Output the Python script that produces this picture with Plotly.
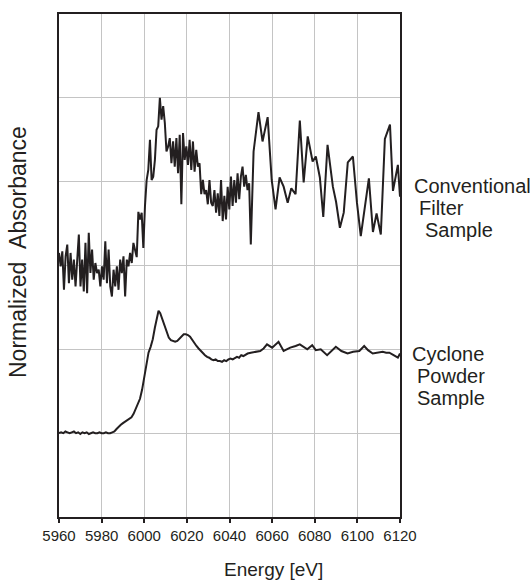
import numpy as np
import plotly.graph_objects as go

# ---------------- data ----------------
# Cyclone powder sample (normalized absorbance, offset units)
cyc_energy = [5960, 5961, 5962, 5963, 5964, 5965, 5966, 5967, 5968, 5969, 5970, 5971, 5972, 5973, 5974,
              5975, 5976, 5977, 5978, 5979, 5980, 5981, 5982, 5983, 5984, 5985, 5986, 5987, 5988, 5989,
              5990, 5991, 5992, 5993, 5994, 5995, 5996, 5997, 5998, 5999, 6000, 6001, 6002, 6003, 6004,
              6005, 6006, 6006.7, 6007.5, 6008.5, 6009.5, 6010.5, 6011.5, 6012.5, 6013.5, 6014.5, 6015.5,
              6016.5, 6017.5, 6018.5, 6019.5, 6020.5, 6021.5, 6022.5, 6023.5, 6024.5, 6025.5, 6026.5,
              6027.5, 6028.5, 6029.5, 6030.5, 6031.5, 6032.5, 6033.5, 6034.5, 6035.5, 6036.5, 6037.5,
              6038.5, 6039.5, 6040.5, 6041.5, 6042.5, 6043.5, 6044.5, 6045.5, 6046.5, 6047.5, 6048.5,
              6050, 6052, 6054.4, 6056, 6057.6, 6060, 6063, 6065.4, 6068.5, 6071, 6073, 6076.5, 6078.8,
              6080.5, 6082.8, 6085.8, 6088, 6089.9, 6092.5, 6095.4, 6098, 6100.9, 6103.2, 6105, 6107.2,
              6109.5, 6111.9, 6113.5, 6115, 6117, 6119, 6120]
cyc_absorb = [1.00, 1.01, 1.00, 1.02, 1.01, 1.00, 1.01, 1.02, 1.00, 1.01, 0.99, 1.01, 1.00, 1.01, 0.99,
              1.00, 1.01, 1.00, 1.00, 1.01, 1.00, 1.00, 1.01, 1.00, 1.00, 1.01, 1.02, 1.05, 1.08, 1.10,
              1.12, 1.14, 1.15, 1.17, 1.19, 1.23, 1.29, 1.35, 1.41, 1.52, 1.66, 1.82, 1.96, 2.03, 2.12,
              2.26, 2.40, 2.46, 2.43, 2.36, 2.27, 2.20, 2.14, 2.11, 2.10, 2.09, 2.10,
              2.13, 2.16, 2.18, 2.18, 2.17, 2.15, 2.11, 2.07, 2.04, 2.01, 1.98,
              1.95, 1.93, 1.91, 1.90, 1.88, 1.87, 1.88, 1.86, 1.86, 1.85, 1.87,
              1.86, 1.88, 1.89, 1.88, 1.90, 1.91, 1.90, 1.93, 1.92, 1.94, 1.95,
              1.96, 1.97, 1.98, 2.01, 2.06, 2.02, 2.09, 1.98, 2.02, 2.04, 2.06, 2.00, 2.05,
              1.99, 2.00, 1.93, 1.98, 2.03, 1.98, 1.95, 1.97, 1.98, 2.04, 1.99, 1.95,
              1.96, 1.97, 1.96, 1.96, 1.93, 1.90, 1.95]

# Conventional filter sample: densely sampled part 5960-6050 eV (117 evenly spaced points)
conv_dense_energy = np.linspace(5960, 6050, 117)
conv_dense_absorb = [3.15, 2.99, 3.17, 2.71, 3.11, 3.25, 2.79, 3.15, 2.83, 3.07, 2.75, 3.03, 3.37, 2.75,
                     3.07, 2.69, 3.27, 2.67, 3.39, 2.91, 3.19, 2.83, 3.03, 2.91, 2.95, 2.75, 2.99, 2.83,
                     3.29, 2.79, 3.19, 2.75, 2.63, 2.95, 2.75, 2.99, 2.71, 3.07, 2.91, 3.11, 2.63, 3.07,
                     2.99, 3.15, 3.03, 3.27, 3.19, 3.10,
                     3.64, 3.55, 3.63, 3.21, 3.71, 4.02, 4.14, 4.50, 4.02, 4.06, 4.26, 4.62, 4.66, 5.00,
                     4.74, 4.90, 4.70, 4.36, 4.42, 4.52, 4.22, 4.48, 4.18, 4.52, 4.10, 4.56, 3.73, 4.58,
                     4.26, 4.42, 4.20, 4.50, 4.14, 4.48, 4.12, 4.38, 4.18, 4.22, 3.85, 4.02, 3.85, 3.90,
                     3.73, 4.02, 3.75, 3.71, 3.90, 3.63, 3.86, 3.59, 4.02, 3.53, 3.83, 3.55, 3.94, 3.67,
                     4.06, 3.71, 4.02, 3.75, 4.10, 3.79, 4.06, 4.18, 3.94, 4.08, 3.90, 3.98, 3.25]
# Conventional filter sample: coarse part above 6050 eV
conv_coarse_energy = [6051.3, 6053.6, 6055.5, 6057.9, 6059.8, 6061.6, 6063.5, 6065.4, 6067.3, 6069.0,
                      6071.0, 6073.0, 6074.8, 6076.7, 6079.0, 6080.5, 6082.4, 6084.0, 6086.0, 6088.5,
                      6090.0, 6091.8, 6093.6, 6095.5, 6097.9, 6099.8, 6101.6, 6105.4, 6107.3, 6109.0,
                      6111.0, 6112.9, 6115.3, 6116.7, 6119.0, 6120.0]
conv_coarse_absorb = [4.36, 4.83, 4.48, 4.77, 4.02, 3.67, 4.05, 3.94, 3.75, 3.92,
                      3.85, 4.73, 3.99, 4.54, 4.24, 4.30, 4.05, 3.58, 4.44, 3.94,
                      3.76, 3.45, 3.63, 4.23, 4.30, 3.75, 3.35, 4.04, 3.40, 3.62,
                      3.37, 4.51, 4.68, 3.89, 4.20, 3.82]

x_ticks = [5960, 5980, 6000, 6020, 6040, 6060, 6080, 6100, 6120]

conv_energy = list(conv_dense_energy) + conv_coarse_energy
conv_absorb = conv_dense_absorb + conv_coarse_absorb

# ---------------- figure ----------------
LINE = "#231f20"
FONT = "Liberation Sans, Arial, sans-serif"

fig = go.Figure()
fig.add_trace(go.Scatter(x=conv_energy, y=conv_absorb, mode="lines",
                         line=dict(color=LINE, width=2), showlegend=False))
fig.add_trace(go.Scatter(x=cyc_energy, y=cyc_absorb, mode="lines",
                         line=dict(color=LINE, width=2), showlegend=False))

fig.update_layout(
    width=532, height=581,
    margin=dict(l=59, r=132, t=14, b=64),
    paper_bgcolor="white", plot_bgcolor="white",
    font=dict(family=FONT, color=LINE),
)
fig.update_xaxes(range=[5960, 6120], tickvals=x_ticks, ticktext=[str(t) for t in x_ticks],
                 showgrid=True, gridcolor="#c4c4c4", gridwidth=1,
                 showline=True, linecolor=LINE, linewidth=2, mirror=True,
                 ticks="outside", ticklen=4, tickwidth=1.5, tickcolor=LINE,
                 tickfont=dict(size=15, family=FONT, color=LINE), zeroline=False)
fig.update_yaxes(range=[0, 6], dtick=1, showticklabels=False,
                 showgrid=True, gridcolor="#c4c4c4", gridwidth=1,
                 showline=True, linecolor=LINE, linewidth=2, mirror=True,
                 ticks="", zeroline=False)


def px_x(p):
    return (p - 59) / (400 - 59)


def px_y(p):
    return (517 - p) / (517 - 14)


fig.add_annotation(text="Energy [eV]", xref="paper", yref="paper", x=px_x(273), y=px_y(569),
                   showarrow=False, xanchor="center", yanchor="middle",
                   font=dict(size=19, family=FONT, color=LINE))
fig.add_annotation(text="Normalized\u00a0\u00a0Absorbance", xref="paper", yref="paper",
                   x=px_x(18), y=px_y(252), textangle=-90,
                   showarrow=False, xanchor="center", yanchor="middle",
                   font=dict(size=23, family=FONT, color=LINE))

side_labels = [("Conventional", 412, 186), ("Filter", 417, 208), ("Sample", 423, 230),
               ("Cyclone", 410, 354), ("Powder", 415, 376), ("Sample", 415, 398)]
for txt, xp, yp in side_labels:
    fig.add_annotation(text=txt, xref="paper", yref="paper", x=px_x(xp), y=px_y(yp),
                       showarrow=False, xanchor="left", yanchor="middle",
                       font=dict(size=20, family=FONT, color=LINE))

fig.write_html("out.html", post_script="document.body.style.margin='0px';",
               config={"displayModeBar": False})
